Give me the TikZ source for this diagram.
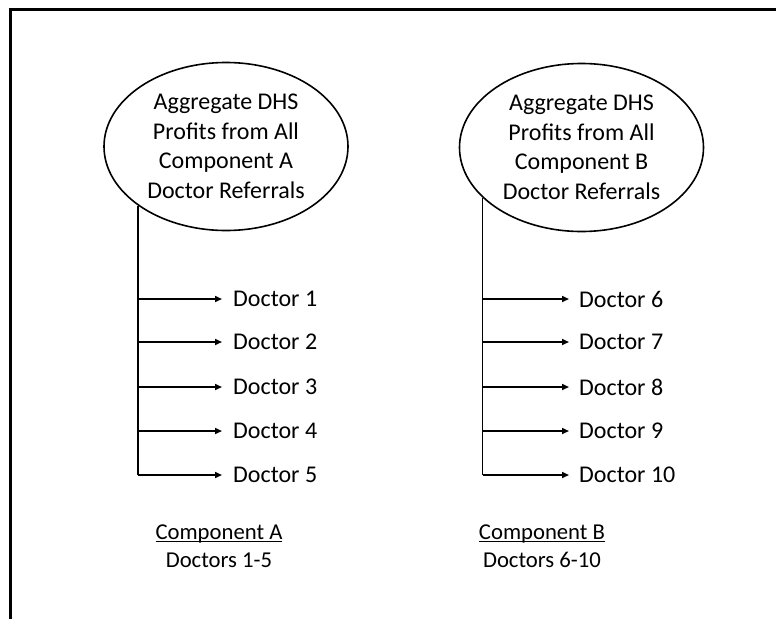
\documentclass[tikz,border=0pt]{standalone}
\usepackage{fontspec}
\setmainfont{Carlito}
\usetikzlibrary{arrows.meta,shapes.geometric}
\newcommand\myul[1]{\setbox0\hbox{#1}\rlap{\rule[-3pt]{\wd0}{1.3pt}}\box0}
\begin{document}
\begin{tikzpicture}[x=1pt,y=-1pt,
  every node/.style={font=\fontsize{24}{29.5}\selectfont},
  aggr/.style={draw,ellipse,line width=1.6pt,inner sep=0pt,minimum width=244pt,minimum height=168pt,align=center},
  doc/.style={anchor=west,inner xsep=11pt,inner ysep=0pt},
  lbl/.style={align=center,inner sep=0pt,font=\fontsize{22.7}{28}\selectfont},
  conn/.style={line width=1.6pt},
  arr/.style={line width=1.6pt,-{Triangle[length=7pt,width=6pt]}}]
\useasboundingbox (0,0) rectangle (776,619);
\draw[line width=3pt,line join=miter] (10,619) -- (10,9) -- (776,9);

\node[aggr] (aggA) at (226,146.5) {Aggregate DHS\\Profits from All\\Component A\\Doctor Referrals};
\node[aggr] (aggB) at (581.5,147.5) {Aggregate DHS\\Profits from All\\Component B\\Doctor Referrals};

\node[doc] (d1) at (222,299) {Doctor 1};
\node[doc] (d2) at (222,342) {Doctor 2};
\node[doc] (d3) at (222,387) {Doctor 3};
\node[doc] (d4) at (222,431) {Doctor 4};
\node[doc] (d5) at (222,475) {Doctor 5};

\node[doc,inner xsep=10pt] (d6) at (569,299) {Doctor 6};
\node[doc,inner xsep=10pt] (d7) at (569,342) {Doctor 7};
\node[doc,inner xsep=10pt] (d8) at (569,387) {Doctor 8};
\node[doc,inner xsep=10pt] (d9) at (569,431) {Doctor 9};
\node[doc,inner xsep=10pt] (d10) at (569,475) {Doctor 10};

\coordinate (topA) at (aggA.214.7);
\coordinate (topB) at (aggB.207.9);
\coordinate (trunkA) at (topA |- d5.west);
\coordinate (trunkB) at (topB |- d10.west);

\draw[conn] (topA) -- (trunkA);
\draw[conn] (topB) -- (trunkB);
\foreach \d in {d1,d2,d3,d4,d5} {\draw[arr] (topA |- \d.west) -- (\d.west);}
\foreach \d in {d6,d7,d8,d9,d10} {\draw[arr] (topB |- \d.west) -- (\d.west);}

\node[lbl] (compA) at (219,546) {\myul{Component A}\\Doctors 1-5};
\node[lbl] (compB) at (542,546) {\myul{Component B}\\Doctors 6-10};
\end{tikzpicture}
\end{document}
